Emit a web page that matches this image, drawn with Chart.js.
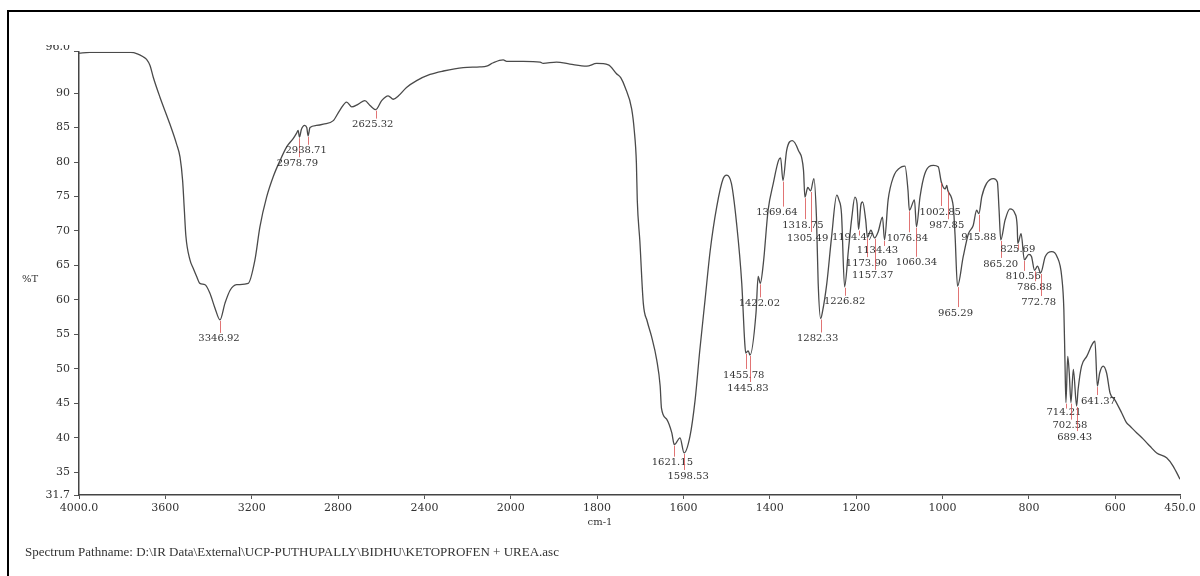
<!DOCTYPE html>
<html>
<head>
<meta charset="utf-8">
<script src="https://cdn.jsdelivr.net/npm/chart.js@4"></script>
<style>
html, body { margin: 0; padding: 0; background: #fff; }
#wrap { position: relative; width: 1200px; height: 576px; overflow: hidden; }
#frame { position: absolute; left: 7px; top: 10px; width: 1200px; height: 600px; border-top: 2px solid #000; border-left: 2px solid #000; }
#spectrum { position: absolute; left: 0; top: 0; }
#path { position: absolute; left: 25px; top: 544px; font: 13px "Liberation Serif", serif; color: #333; white-space: nowrap; }
</style>
</head>
<body>
<div id="wrap">
  <div id="frame"></div>
  <canvas id="spectrum" width="1200" height="576"></canvas>
  <div id="path">Spectrum Pathname: D:\IR Data\External\UCP-PUTHUPALLY\BIDHU\KETOPROFEN + UREA.asc</div>
</div>
<script>
// spectrum (cm-1 / %T)
const wavenumber = [
  4000, 3950, 3900, 3850, 3800, 3760, 3730, 3705, 3687, 3671,
  3656, 3625, 3579, 3548, 3532, 3520, 3512, 3505, 3486, 3471,
  3455, 3440, 3416, 3394, 3370, 3346.92, 3324, 3300, 3270, 3216,
  3185, 3162, 3131, 3100, 3069, 3038, 3008, 2992, 2985, 2978.79,
  2970, 2955, 2945, 2938.71, 2930, 2900, 2868, 2822, 2792, 2760,
  2737, 2706, 2676, 2652, 2625.32, 2598, 2568, 2544, 2520, 2483,
  2436, 2374, 2312, 2220, 2143, 2112, 2081, 2035, 2019, 1971,
  1932, 1925, 1894, 1863, 1824, 1801, 1774, 1755, 1745, 1735,
  1720, 1714, 1709, 1707, 1701, 1693, 1684, 1674, 1662, 1654,
  1651, 1639, 1627, 1621.15, 1608, 1598.53, 1585, 1573, 1562, 1550,
  1538, 1523, 1508, 1500, 1489, 1477, 1465, 1458, 1455.78, 1450,
  1445.83, 1432, 1427, 1422.02, 1415, 1404, 1392, 1380, 1375, 1369.64,
  1361, 1348, 1334, 1322, 1318.75, 1312, 1305.49, 1298, 1292, 1288,
  1282.33, 1278, 1268, 1257, 1245, 1240, 1234, 1226.82, 1218, 1210,
  1203, 1198, 1194.47, 1189, 1185, 1178, 1173.90, 1166, 1157.37, 1149,
  1139, 1134.43, 1126, 1114, 1095, 1087, 1080, 1076.84, 1065, 1060.34,
  1052, 1041, 1021, 1010, 1002.85, 994, 990, 987.85, 975, 971,
  965.29, 952, 940, 929, 921, 915.88, 909, 898, 882, 873,
  869, 865.20, 855, 844, 832, 827, 825.69, 818, 810.56, 800,
  794, 786.88, 780, 772.78, 762, 747, 735, 724, 719, 716.5,
  714.21, 710, 706.5, 702.58, 697, 689.43, 686, 678, 666, 647,
  641.37, 636, 628, 620, 612, 601, 585, 574, 566, 550,
  535, 520, 504, 481, 466, 450
];
const transmittance = [
  95.8, 95.9, 95.9, 95.9, 95.9, 95.9, 95.7, 95.3, 94.9, 94.0,
  92.3, 89.4, 85.5, 82.6, 80.7, 77.3, 73.0, 69.3, 65.8, 64.6,
  63.4, 62.4, 62.2, 61.0, 58.8, 57.1, 59.5, 61.4, 62.2, 62.4,
  65.8, 70.6, 74.9, 77.9, 80.2, 82.2, 83.4, 84.2, 84.6, 83.6,
  84.7, 85.3, 85.0, 83.8, 85.0, 85.3, 85.5, 86.0, 87.5, 88.7,
  88.0, 88.4, 88.9, 88.2, 87.6, 88.9, 89.6, 89.1, 89.6, 90.8,
  91.8, 92.7, 93.2, 93.7, 93.8, 93.9, 94.4, 94.8, 94.6, 94.6,
  94.5, 94.3, 94.5, 94.2, 93.9, 94.3, 94.1, 92.8, 92.2, 90.8,
  87.7, 84.6, 79.8, 74.5, 68.5, 59.5, 56.9, 54.7, 51.3, 47.5,
  44.3, 42.7, 40.7, 39.0, 40.0, 37.8, 40.2, 45.5, 52.8, 60.0,
  67.2, 73.5, 77.6, 78.1, 76.9, 71.1, 62.4, 53.7, 52.3, 52.6,
  52.0, 58.1, 63.4, 62.4, 65.3, 73.0, 76.9, 80.2, 80.6, 77.3,
  81.7, 83.1, 81.7, 78.8, 74.9, 76.3, 75.8, 77.6, 72.0, 62.4,
  57.3, 58.3, 62.4, 69.1, 75.2, 74.5, 72.5, 61.9, 67.2, 72.0,
  74.9, 74.0, 70.2, 73.8, 74.2, 71.6, 69.1, 70.1, 69.0, 69.9,
  72.0, 68.7, 74.5, 77.8, 79.3, 79.4, 75.9, 73.0, 74.5, 70.6,
  75.0, 78.3, 79.5, 79.3, 77.1, 76.1, 76.6, 75.9, 73.5, 69.4,
  62.0, 66.3, 69.6, 70.8, 73.0, 72.5, 75.0, 76.9, 77.6, 77.1,
  73.0, 68.7, 71.6, 73.2, 72.5, 70.6, 68.2, 69.6, 65.8, 66.6,
  66.3, 64.3, 64.9, 63.9, 66.3, 67.0, 66.3, 63.4, 58.6, 51.3,
  45.1, 51.8, 49.4, 45.1, 49.9, 44.6, 47.0, 50.4, 51.8, 54.0,
  47.5, 49.4, 50.4, 49.4, 46.5, 45.5, 43.6, 42.2, 41.7, 40.7,
  39.8, 38.8, 37.8, 37.1, 35.9, 34.0
];

// picked peaks
const peakWn = [
  3346.92, 2978.79, 2938.71, 2625.32, 1621.15, 1598.53, 1455.78, 1445.83, 1422.02,
  1369.64, 1318.75, 1305.49, 1282.33, 1226.82, 1194.47, 1173.90, 1157.37, 1134.43,
  1076.84, 1060.34, 1002.85, 987.85, 965.29, 915.88, 865.20, 825.69, 810.56,
  786.88, 772.78, 714.21, 702.58, 689.43, 641.37
];

const xTicks = [4000, 3600, 3200, 2800, 2400, 2000, 1800, 1600, 1400, 1200, 1000, 800, 600, 450];
const yTicks = [31.7, 35, 40, 45, 50, 55, 60, 65, 70, 75, 80, 85, 90, 96.0];

// label offsets from each peak (px), layout only
const labelDx = [-1, -2, -2, -3, -2, 4, -2, -2, -1, -6, -2, -3, -3, 0, -6, -1, -2, -7, -2, 0, -1, -1, -2, 0, 0, 0, -1, 0, -2, -2, -1, -2, 1];
const labelDy = [19, 26, 15, 15, 18, 23, 22, 33, 20, 32, 28, 47, 20, 15, 8, 26, 38, 10, 28, 36, 30, 35, 27, 24, 24, 6, 17, 17, 29, 10, 23, 31, 15];

// the instrument plots 4000-2000 at half the scale of 2000-450
const toAxis = wn => wn >= 2000 ? (4000 - wn) / 2 : 1000 + (2000 - wn);
const fromAxis = u => u <= 1000 ? 4000 - 2 * u : 2000 - (u - 1000);

const SERIF = '"DejaVu Serif", serif';

const peakMarks = {
  id: 'peakMarks',
  afterDatasetsDraw(chart) {
    const ctx = chart.ctx, xs = chart.scales.x, ys = chart.scales.y;
    ctx.save();
    ctx.font = '10px ' + SERIF;
    ctx.textAlign = 'center';
    ctx.textBaseline = 'middle';
    peakWn.forEach((wn, k) => {
      const i = wavenumber.indexOf(wn);
      const px = xs.getPixelForValue(toAxis(wn));
      const py = ys.getPixelForValue(transmittance[i]);
      ctx.strokeStyle = 'rgba(215, 70, 70, 0.75)';
      ctx.lineWidth = 1;
      ctx.beginPath();
      ctx.moveTo(Math.round(px) + 0.5, py + 1);
      ctx.lineTo(Math.round(px) + 0.5, py + Math.max(labelDy[k] - 6, 6));
      ctx.stroke();
      ctx.fillStyle = '#333';
      ctx.fillText(wn.toFixed(2), px + labelDx[k], py + labelDy[k]);
    });
    ctx.restore();
  },
  afterDraw(chart) {
    const ctx = chart.ctx, ys = chart.scales.y;
    ctx.save();
    ctx.fillStyle = '#333';
    ctx.font = '10px ' + SERIF;
    ctx.textBaseline = 'middle';
    ctx.textAlign = 'left';
    ctx.fillText('%T', 22, 279);
    ctx.textAlign = 'center';
    ctx.fillText('cm-1', 600, 522);
    // top label is cut off in the original
    ctx.beginPath();
    ctx.rect(0, 45, 78, 10);
    ctx.clip();
    ctx.font = '11px ' + SERIF;
    ctx.textAlign = 'right';
    ctx.fillText('96.0', 70, ys.getPixelForValue(96.0) - 5);
    ctx.restore();
  }
};

new Chart(document.getElementById('spectrum'), {
  type: 'line',
  data: {
    datasets: [{
      data: wavenumber.map((w, i) => ({ x: toAxis(w), y: transmittance[i] })),
      borderColor: '#4a4a4a',
      borderWidth: 1.3,
      pointRadius: 0,
      cubicInterpolationMode: 'monotone',
      fill: false
    }]
  },
  options: {
    responsive: false,
    animation: false,
    devicePixelRatio: 1,
    layout: { padding: { left: 0, right: 20, top: 51.7, bottom: 0 } },
    plugins: { legend: { display: false }, tooltip: { enabled: false } },
    scales: {
      x: {
        type: 'linear', min: 0, max: toAxis(450),
        afterBuildTicks: s => { s.ticks = xTicks.map(w => ({ value: toAxis(w) })); },
        afterFit: s => { s.height = 81; },
        grid: { drawOnChartArea: false, tickLength: 4, color: '#555' },
        border: { color: '#444', width: 1.5 },
        ticks: {
          autoSkip: false, maxRotation: 0, padding: 3, color: '#333',
          font: { family: SERIF, size: 11 },
          callback: v => {
            const wn = Math.round(fromAxis(v));
            return (wn === 4000 || wn === 450) ? wn.toFixed(1) : String(wn);
          }
        }
      },
      y: {
        min: 31.7, max: 96.0,
        afterBuildTicks: s => { s.ticks = yTicks.map(v => ({ value: v })); },
        afterFit: s => { s.width = 79; },
        grid: { drawOnChartArea: false, tickLength: 5, color: '#555' },
        border: { color: '#444', width: 1.5 },
        ticks: {
          autoSkip: false, padding: 4, color: '#333',
          font: { family: SERIF, size: 11 },
          callback: v => v === 96 ? '' : (v === 31.7 ? '31.7' : String(v))
        }
      }
    }
  },
  plugins: [peakMarks]
});
</script>
</body>
</html>
